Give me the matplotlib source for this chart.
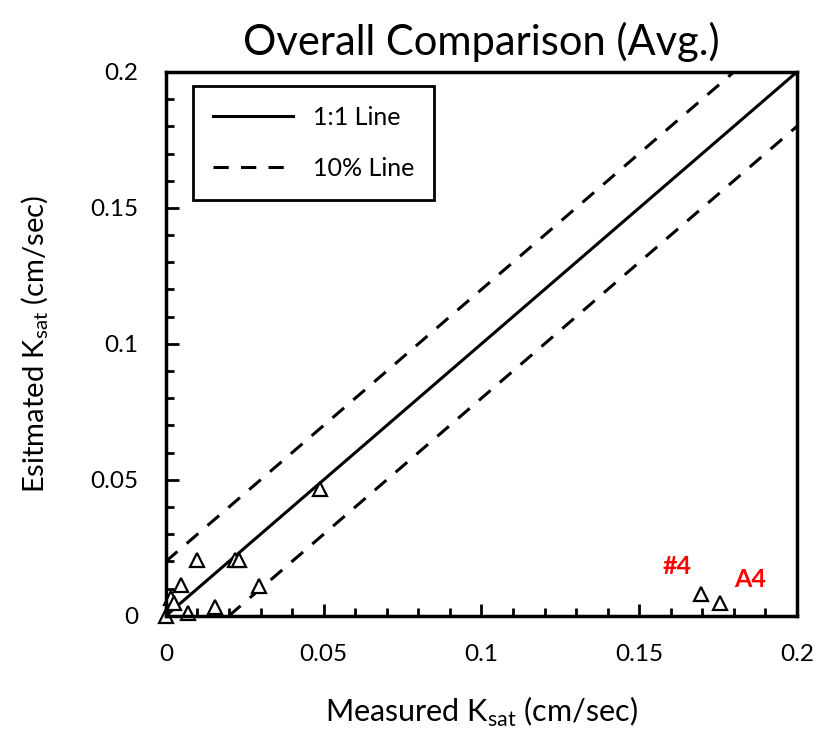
import matplotlib
matplotlib.use('Agg')
import matplotlib.pyplot as plt

# measured vs estimated Ksat (cm/sec), averaged
measured = [0.0, 0.0015, 0.0025, 0.0048, 0.007, 0.010, 0.0157, 0.0219, 0.0232, 0.0295, 0.0488, 0.1696, 0.1756]
estimated = [0.0, 0.0065, 0.0048, 0.0114, 0.0012, 0.0206, 0.0034, 0.0206, 0.0206, 0.0108, 0.0466, 0.0081, 0.0047]

line_x = [0.0, 0.2]
offset = 0.02  # 10% of full scale
tick_vals = [0, 0.05, 0.1, 0.15, 0.2]
tick_labels = ['0', '0.05', '0.1', '0.15', '0.2']

plt.rcParams['font.family'] = ['Lato', 'DejaVu Sans']
plt.rcParams['mathtext.fontset'] = 'custom'
plt.rcParams['mathtext.rm'] = 'Lato'

fig = plt.figure(figsize=(8.17, 7.34), dpi=100)
ax = fig.add_axes([0.203, 0.161, 0.7725, 0.741])

ax.plot(line_x, line_x, color='black', lw=2.2, label='1:1 Line')
ax.plot(line_x, [x + offset for x in line_x], color='black', lw=2.2, ls=(0, (5, 4)), label='10% Line')
ax.plot([offset, 0.2], [0.0, 0.2 - offset], color='black', lw=2.2, ls=(0, (5, 4)))

ax.plot(measured, estimated, ls='none', marker='^', ms=10, mfc='white', mec='black', mew=1.6, clip_on=False)

ax.text(0.162, 0.018, '#4', color='red', fontsize=18, fontweight='bold', ha='center', va='center')
ax.text(0.185, 0.0132, 'A4', color='red', fontsize=18, fontweight='bold', ha='center', va='center')

ax.set_xlim(0, 0.2)
ax.set_ylim(0, 0.2)
ax.set_xticks(tick_vals)
ax.set_xticklabels(tick_labels)
ax.set_yticks(tick_vals)
ax.set_yticklabels(tick_labels)
ax.set_xticks([i * 0.01 for i in range(21)], minor=True)
ax.set_yticks([i * 0.01 for i in range(21)], minor=True)
ax.tick_params(which='major', direction='in', length=9, width=2, labelsize=17.5, pad=20)
ax.tick_params(which='minor', direction='in', length=6, width=2)
for s in ax.spines.values():
    s.set_linewidth(2.5)

ax.set_title('Overall Comparison (Avg.)', fontsize=30, pad=12)
ax.set_xlabel('Measured K$_{\\mathrm{sat}}$ (cm/sec)', fontsize=22, labelpad=22)
ax.set_ylabel('Esitmated K$_{\\mathrm{sat}}$ (cm/sec)', fontsize=21, labelpad=28)

leg = ax.legend(loc='upper left', bbox_to_anchor=(0.043, 0.974), borderaxespad=0, fontsize=18,
                fancybox=False, edgecolor='black', framealpha=1, handlelength=3.2, handletextpad=0.8,
                borderpad=0.8, labelspacing=1.1)
leg.get_frame().set_linewidth(2)

fig.savefig('out.png', dpi=100)
plt.close()
